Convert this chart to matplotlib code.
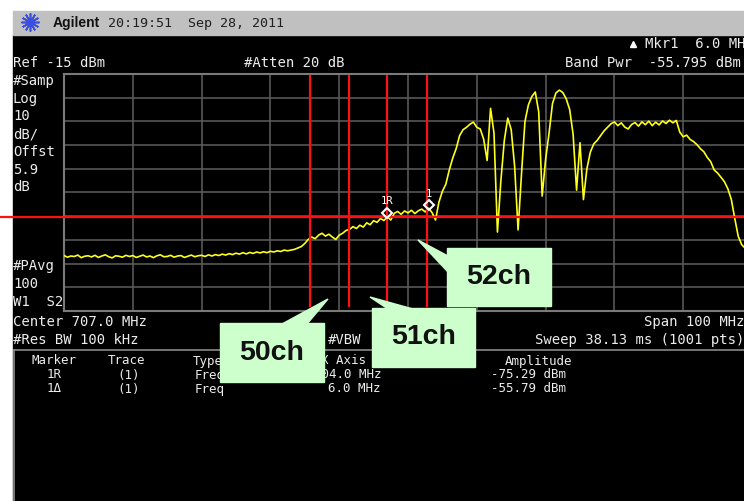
import matplotlib
matplotlib.use("Agg")
import matplotlib.pyplot as plt
import numpy as np
from matplotlib.patches import Rectangle, Polygon
from matplotlib.transforms import blended_transform_factory

# sweep settings (from the screen)
center_mhz = 707.0
span_mhz = 100.0
ref_dbm = -15.0
db_per_div = 10.0

# trace, 0.5 MHz steps from 657 to 757 MHz
freq = np.linspace(center_mhz - span_mhz / 2, center_mhz + span_mhz / 2, 201)
level = [
    -91.6, -92.3, -91.8, -92.0, -91.4, -92.5, -91.9, -91.7, -92.2, -91.5,
    -92.4, -91.8, -91.3, -92.1, -92.6, -91.7, -91.9, -92.3, -91.5, -92.0,
    -91.6, -92.4, -91.9, -91.4, -92.2, -91.8, -92.5, -91.7, -91.3, -92.1,
    -92.0, -91.5, -92.3, -91.8, -91.6, -92.4, -91.9, -91.4, -92.1, -91.7,
    -91.5, -92.0, -91.3, -91.8, -91.2, -91.6, -91.0, -91.4, -90.8, -91.2,
    -90.6, -91.0, -90.4, -90.9, -90.3, -90.7, -90.1, -90.5, -90.0, -90.4,
    -89.8, -90.1, -89.6, -89.9, -89.3, -89.6, -89.3, -89.0, -88.4, -87.8,
    -86.5, -84.8, -83.8, -84.5, -83.0, -82.2, -83.4, -82.6, -83.8, -84.8,
    -83.0, -82.2, -81.0, -80.6, -79.4, -80.2, -78.8, -79.6, -77.8, -78.6,
    -76.9, -77.6, -76.0, -76.8, -75.3, -76.6, -73.8, -73.0, -74.2, -72.8,
    -73.6, -72.5, -73.9, -72.7, -72.0, -73.2, -71.6, -73.5, -76.6, -69.0,
    -64.5, -61.5, -55.5, -50.5, -46.5, -41.0, -38.5, -37.5, -36.2, -35.3,
    -37.5, -38.2, -42.5, -51.5, -29.5, -40.0, -81.7, -60.0, -43.0, -33.6,
    -38.5, -54.0, -80.8, -57.0, -35.0, -28.0, -24.5, -22.6, -31.0, -66.5,
    -51.0, -40.0, -27.5, -23.0, -21.8, -22.8, -25.5, -30.0, -40.5, -64.0,
    -44.0, -68.0, -55.0, -48.0, -44.5, -43.0, -41.0, -39.0, -37.5, -36.0,
    -35.2, -36.8, -35.6, -37.4, -38.2, -36.3, -35.5, -37.0, -35.2, -36.4,
    -34.9, -36.8, -35.3, -36.5, -34.8, -35.9, -34.5, -35.6, -34.6, -39.5,
    -41.5, -40.8, -42.6, -43.5, -44.8, -46.5, -47.8, -50.2, -52.0, -55.5,
    -56.8, -58.6, -60.5, -63.5, -68.0, -76.0, -83.5, -87.0, -88.5, -89.0,
    -89.5,
]

# markers
mkr_ref_mhz = 704.0
mkr_ref_dbm = -75.29
mkr_delta_mhz = 6.0
mkr_delta_dbm = -71.6
band_pwr = "-55.795"
delta_amp = "-55.79"

# channel edges drawn on top (red), and callouts
ch_edges = [692.8, 698.4, 704.0, 709.8]
ch_labels = ["50ch", "51ch", "52ch"]

W, H = 744, 501
fig = plt.figure(figsize=(W / 100, H / 100), dpi=100)
fig.patch.set_facecolor("white")

# background screen in pixel coords
bg = fig.add_axes([0, 0, 1, 1])
bg.set_xlim(0, W)
bg.set_ylim(H, 0)
bg.axis("off")

bg.add_patch(Rectangle((13, 35), W - 13, H - 35, color="black", zorder=0))
bg.add_patch(Rectangle((13, 11), W - 13, 24, color="#c0c0c0", zorder=0))
bg.plot([14, W], [350, 350], color="#8a8a8a", lw=1.2)
bg.plot([14, 14], [350, H], color="#8a8a8a", lw=1.2)

# logo + title bar
bg.plot(30, 22, marker=(12, 2, 0), ms=13, color="#3a4ee0", mew=1.2)
bg.plot(30, 22, marker="o", ms=3, color="#3a4ee0")
bg.text(53, 23, "Agilent", family="Liberation Sans", weight="bold", size=10,
        va="center", color="#101010")
bg.text(108, 23, "20:19:51  Sep 28, 2011", family="DejaVu Sans Mono", size=9.6,
        va="center", color="#202020")

mono = dict(family="DejaVu Sans Mono", size=10, color="#ececec", va="center")
bg.text(13, 63, "Ref -15 dBm", **mono)
bg.text(244, 63, "#Atten 20 dB", **mono)
bg.plot(633, 44, marker="^", ms=5, color="white")
bg.text(645, 44, "Mkr1  %.1f MHz" % mkr_delta_mhz, **mono)
bg.text(565, 63, "Band Pwr  %s dBm" % band_pwr, **mono)

left_labels = ["#Samp", "Log", "10", "dB/", "Offst", "5.9", "dB"]
for i, s in enumerate(left_labels):
    bg.text(13, 81 + i * 17.7, s, **mono)
for i, s in enumerate(["#PAvg", "100", "W1  S2"]):
    bg.text(13, 266 + i * 18, s, **mono)

bg.text(13, 322, "Center %.1f MHz" % center_mhz, **mono)
bg.text(13, 340, "#Res BW 100 kHz", **mono)
bg.text(328, 340, "#VBW", **mono)
bg.text(744, 322, "Span %d MHz" % span_mhz, ha="right", **mono)
bg.text(744, 340, "Sweep 38.13 ms (1001 pts)", ha="right", **mono)

small = dict(family="DejaVu Sans Mono", size=9, color="#ececec", va="center")
for x, s in [(32, "Marker"), (108, "Trace"), (193, "Type"), (321, "X Axis"), (505, "Amplitude")]:
    bg.text(x, 361, s, **small)
rows = [("1R", "%.1f MHz" % mkr_ref_mhz, "%.2f dBm" % mkr_ref_dbm),
        ("1\u0394", "%.1f MHz" % mkr_delta_mhz, "%s dBm" % delta_amp)]
for j, (m, xv, av) in enumerate(rows):
    y = 375 + j * 14
    bg.text(47, y, m, **small)
    bg.text(117, y, "(1)", **small)
    bg.text(195, y, "Freq", **small)
    bg.text(381, y, xv, ha="right", **small)
    bg.text(566, y, av, ha="right", **small)

# graticule / trace
ax = fig.add_axes([64 / W, 1 - 311 / H, 688 / W, 237 / H])
ax.set_facecolor("black")
ax.set_xlim(freq[0], freq[-1])
ax.set_ylim(ref_dbm - 10 * db_per_div, ref_dbm)
ax.set_xticks(np.linspace(freq[0], freq[-1], 11))
ax.set_yticks(np.linspace(ref_dbm - 10 * db_per_div, ref_dbm, 11))
ax.tick_params(length=0, labelbottom=False, labelleft=False)
ax.grid(color="#5e5e5e", lw=1.1)
for sp in ax.spines.values():
    sp.set_color("#7a7a7a")
    sp.set_linewidth(1.5)

ax.plot(freq, level, color="#ffff1a", lw=1.2, zorder=3)

# marker symbols
ax.plot(mkr_ref_mhz, mkr_ref_dbm + 1.5, marker="D", ms=5, mfc="none", mec="white", mew=1.5, zorder=5)
ax.text(mkr_ref_mhz, mkr_ref_dbm + 6.5, "1R", color="white", size=7.5,
        family="DejaVu Sans Mono", ha="center", va="center", zorder=5)
ax.plot(mkr_ref_mhz + mkr_delta_mhz, mkr_delta_dbm + 1.5, marker="D", ms=5, mfc="none",
        mec="white", mew=1.5, zorder=5)
ax.text(mkr_ref_mhz + mkr_delta_mhz, mkr_delta_dbm + 6, "1", color="white", size=7.5,
        family="DejaVu Sans Mono", ha="center", va="center", zorder=5)

# red overlay lines
for f in ch_edges:
    ax.axvline(f, ymin=0.02, ymax=0.99, color="#ff1010", lw=1.6, zorder=4)
tr = blended_transform_factory(fig.transFigure, ax.transData)
ax.plot([0, 1], [mkr_ref_dbm, mkr_ref_dbm], color="#ff1010", lw=1.6, transform=tr,
        clip_on=False, zorder=4)

# callouts (box + pointer) on a top layer
top = fig.add_axes([0, 0, 1, 1])
top.set_xlim(0, W)
top.set_ylim(H, 0)
top.axis("off")
top.patch.set_alpha(0)

green = "#ccffcc"
callouts = [
    ((220, 323, 324, 382), [(282, 324), (328, 299), (307, 324)]),
    ((372, 308, 475, 367), [(388, 309), (370, 297), (413, 309)]),
    ((447, 248, 551, 306), [(448, 256), (418, 240), (448, 272)]),
]
for label, (box, tri) in zip(ch_labels, callouts):
    x0, y0, x1, y1 = box
    top.add_patch(Rectangle((x0, y0), x1 - x0, y1 - y0, color=green, zorder=10))
    top.add_patch(Polygon(tri, closed=True, color=green, zorder=10))
    top.text((x0 + x1) / 2, (y0 + y1) / 2, label, family="Liberation Sans", weight="bold",
             size=20.5, ha="center", va="center", color="#111111", zorder=11)

fig.savefig("out.png", dpi=100)
